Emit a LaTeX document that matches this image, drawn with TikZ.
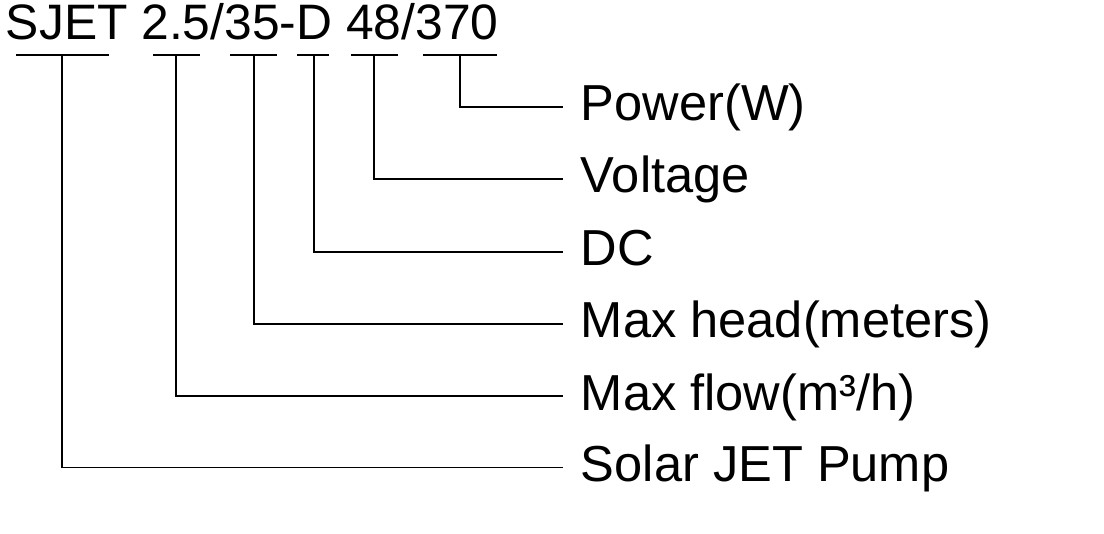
\documentclass[tikz,border=0pt]{standalone}
\usepackage{fontspec}
\setmainfont{Liberation Sans}
\tikzset{
  code/.style={anchor=base west,inner sep=0pt,font=\fontsize{24.9pt}{28pt}\selectfont},
  lbl/.style={anchor=base west,inner sep=0pt,font=\fontsize{25.3pt}{28pt}\selectfont},
}
\begin{document}
\begin{tikzpicture}[x=0.5pt,y=-0.5pt,line width=0.9pt]
    \useasboundingbox (0,0) rectangle (1104,534);
    \node[code] (model) at (5,40) {SJET 2.5/35-D 48/370};
    % underlines
    \draw (16,55)--(109,55);
    \draw (153,55)--(200,55);
    \draw (230,55)--(277,55);
    \draw (297,55)--(329,55);
    \draw (351,55)--(398,55);
    \draw (423,55)--(497,55);
    \coordinate (u1) at (62,55);
    \coordinate (u2) at (176,55);
    \coordinate (u3) at (254,55);
    \coordinate (u4) at (314,55);
    \coordinate (u5) at (374,55);
    \coordinate (u6) at (460,55);
    % line ends
    \coordinate (e6) at (563,107);
    \coordinate (e5) at (563,179);
    \coordinate (e4) at (563,252);
    \coordinate (e3) at (563,324);
    \coordinate (e2) at (563,396);
    \coordinate (e1) at (563,467.5);
    \node[lbl] (power) at (580,121) {Power(W)};
    \node[lbl] (volt) at (580,193) {Voltage};
    \node[lbl] (dc) at (580,266) {DC};
    \node[lbl] (head) at (580,338) {Max head(meters)};
    \node[lbl] (flow) at (580,410) {Max flow(m³/h)};
    \node[lbl] (pump) at (580,481) {Solar JET Pump};
    \draw (u6) |- (e6);
    \draw (u5) |- (e5);
    \draw (u4) |- (e4);
    \draw (u3) |- (e3);
    \draw (u2) |- (e2);
    \draw (u1) |- (e1);
\end{tikzpicture}
\end{document}
